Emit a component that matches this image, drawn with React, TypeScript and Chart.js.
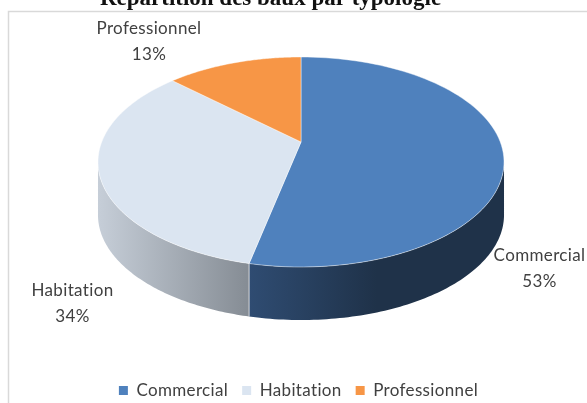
import React, { useEffect, useRef } from "react";
import { Chart, registerables } from "chart.js";

Chart.register(...registerables);

const chartTitle = "Répartition des baux par typologie";
const categories = ["Commercial", "Habitation", "Professionnel"];
const shares = [53.4, 33.6, 13];
const sliceColors = ["#4f81bd", "#dbe5f1", "#f79646"];
const sideColors: [string, string][] = [
  ["#2f4c72", "#1f3249"],
  ["#c6ced8", "#858c94"],
  ["#b46a2c", "#8f5420"],
];

const geometry = { cx: 301, cy: 142, rx: 199.3, ry: 101.2, k: 0.1905, depth: 53 };
const labelAnchors = [
  { x: 539.5, y: 255 },
  { x: 72.5, y: 290 },
  { x: 149, y: 28 },
];
const TEXT_SPACING = "0.35px";

function project(a: number, dy = 0) {
  const { cx, cy, rx, ry, k } = geometry;
  const u = Math.cos(a);
  const v = Math.sin(a);
  const w = 1 - k * v;
  return { x: cx + (rx * u) / w, y: cy + (ry * v) / w + dy };
}

const STEPS = 90;

const pie3d = {
  id: "pie3d",
  beforeUpdate(chart: any) {
    chart.ctx.letterSpacing = TEXT_SPACING;
  },
  beforeDraw(chart: any) {
    const c = chart.ctx;
    c.letterSpacing = TEXT_SPACING;
    c.save();
    c.fillStyle = "#ffffff";
    c.fillRect(0, 0, chart.width, chart.height);
    c.strokeStyle = "#d9d9d9";
    c.lineWidth = 1.5;
    c.beginPath();
    c.moveTo(8.5, chart.height + 2);
    c.lineTo(8.5, 11.5);
    c.lineTo(chart.width + 2, 11.5);
    c.stroke();
    c.restore();
  },
  beforeDatasetsDraw(chart: any) {
    const c = chart.ctx;
    const arcs = chart.getDatasetMeta(0).data;
    const limit = Math.asin(geometry.k);
    c.save();
    // side walls
    arcs.forEach((arc: any, i: number) => {
      const a0 = Math.max(arc.startAngle, limit);
      const a1 = Math.min(arc.endAngle, Math.PI - limit);
      if (a1 <= a0) return;
      const top: any[] = [];
      for (let s = 0; s <= STEPS; s++) top.push(project(a0 + ((a1 - a0) * s) / STEPS));
      const xs = top.map((p) => p.x);
      const minX = Math.min(...xs);
      const maxX = Math.max(...xs);
      const grad = c.createLinearGradient(minX, 0, maxX, 0);
      const [from, to] = sideColors[i];
      if (i === 0) {
        grad.addColorStop(0, from);
        grad.addColorStop(0.5, to);
        grad.addColorStop(1, to);
      } else {
        grad.addColorStop(0, from);
        grad.addColorStop(1, to);
      }
      c.fillStyle = grad;
      c.beginPath();
      top.forEach((p, j) => (j ? c.lineTo(p.x, p.y) : c.moveTo(p.x, p.y)));
      for (let s = STEPS; s >= 0; s--) {
        const p = project(a0 + ((a1 - a0) * s) / STEPS, geometry.depth);
        c.lineTo(p.x, p.y);
      }
      c.closePath();
      c.fill();
    });
    // seam between the visible walls
    const seam = project(arcs[0].endAngle);
    c.strokeStyle = "rgba(255,255,255,0.7)";
    c.lineWidth = 1;
    c.beginPath();
    c.moveTo(seam.x, seam.y);
    c.lineTo(seam.x, seam.y + geometry.depth);
    c.stroke();
    // top faces
    arcs.forEach((arc: any, i: number) => {
      c.beginPath();
      c.moveTo(geometry.cx, geometry.cy);
      for (let s = 0; s <= STEPS; s++) {
        const p = project(arc.startAngle + ((arc.endAngle - arc.startAngle) * s) / STEPS);
        c.lineTo(p.x, p.y);
      }
      c.closePath();
      c.fillStyle = sliceColors[i];
      c.fill();
      c.strokeStyle = "rgba(255,255,255,0.55)";
      c.lineWidth = 0.8;
      c.stroke();
    });
    c.restore();
    return false;
  },
  afterDraw(chart: any) {
    const c = chart.ctx;
    c.save();
    c.textAlign = "center";
    c.textBaseline = "alphabetic";
    c.letterSpacing = "0px";
    c.fillStyle = "#111111";
    c.font = "bold 23px 'Liberation Serif'";
    c.fillText(chartTitle, 270.5, 5);
    c.letterSpacing = TEXT_SPACING;
    c.fillStyle = "#404040";
    c.font = "17px Lato";
    categories.forEach((name, i) => {
      const { x, y } = labelAnchors[i];
      c.fillText(name, x, y + 6);
      c.fillText(`${Math.round(shares[i])}%`, x, y + 32);
    });
    c.restore();
  },
};

export default function App() {
  const ref = useRef<HTMLCanvasElement>(null);
  useEffect(() => {
    document.body.style.margin = "0";
    const chart = new Chart(ref.current as HTMLCanvasElement, {
      type: "pie",
      data: {
        labels: categories,
        datasets: [{ data: shares, backgroundColor: sliceColors, borderWidth: 0 }],
      },
      options: {
        responsive: false,
        animation: false,
        layout: { padding: { left: 10, right: 0, top: 0, bottom: -6 } },
        plugins: {
          title: { display: false },
          tooltip: { enabled: false },
          legend: {
            display: true,
            position: "bottom",
            labels: {
              color: "#404040",
              font: { family: "Lato", size: 17 },
              boxWidth: 9,
              boxHeight: 9,
              padding: 14,
            },
          },
        },
      },
      plugins: [pie3d],
    } as any);
    return () => chart.destroy();
  }, []);
  return <canvas ref={ref} width={587} height={403} style={{ display: "block", filter: "blur(0.4px)" }} />;
}
